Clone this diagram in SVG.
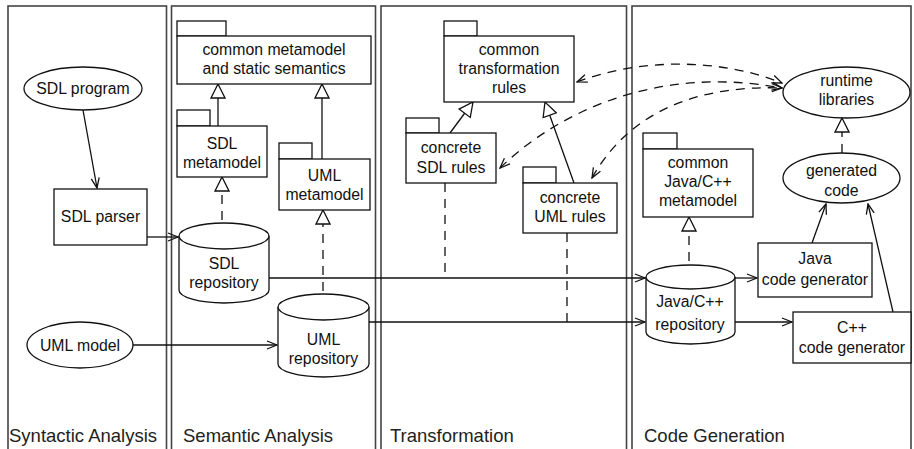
<svg xmlns="http://www.w3.org/2000/svg" width="914" height="449" viewBox="0 0 914 449">
<style>
.lane{fill:none;stroke:#444;stroke-width:1.6}
.lt{font-family:"Liberation Sans",Arial,sans-serif;font-size:18.5px;fill:#222}
.t{font-family:"Liberation Sans",Arial,sans-serif;font-size:15.8px;fill:#111;text-anchor:middle}
.s{fill:#fff;stroke:#111;stroke-width:1.3}
.c{fill:none;stroke:#111;stroke-width:1.3}
.d{fill:none;stroke:#111;stroke-width:1.3;stroke-dasharray:9,7}
</style>
<defs>
<marker id="open" viewBox="0 0 12 10" refX="11" refY="5" markerWidth="12" markerHeight="10" markerUnits="userSpaceOnUse" orient="auto-start-reverse">
<path d="M1,1 L11,5 L1,9" fill="none" stroke="#111" stroke-width="1.3"/>
</marker>
<marker id="tri" viewBox="0 0 16 16" refX="15" refY="8" markerWidth="16" markerHeight="16" markerUnits="userSpaceOnUse" orient="auto">
<path d="M1,1 L15,8 L1,15 z" fill="#fff" stroke="#111" stroke-width="1.3"/>
</marker>
</defs>

<g id="lanes">
<rect class="lane" x="8" y="6" width="158.5" height="460"/>
<rect class="lane" x="171.5" y="6" width="204" height="460"/>
<rect class="lane" x="381" y="6" width="245.5" height="460"/>
<rect class="lane" x="632" y="6" width="279" height="460"/>
<text class="lt" x="9" y="442">Syntactic Analysis</text>
<text class="lt" x="183" y="442">Semantic Analysis</text>
<text class="lt" x="390" y="442">Transformation</text>
<text class="lt" x="644" y="442">Code Generation</text>
</g>

<g id="connectors">
<line class="c" x1="83" y1="110" x2="97" y2="188" marker-end="url(#open)"/>
<line class="c" x1="147" y1="237" x2="178" y2="237" marker-end="url(#open)"/>
<line class="c" x1="133" y1="345" x2="277" y2="345" marker-end="url(#open)"/>
<line class="c" x1="269" y1="278" x2="645" y2="278" marker-end="url(#open)"/>
<line class="c" x1="369" y1="322" x2="645" y2="322" marker-end="url(#open)"/>
<line class="c" x1="735" y1="278" x2="757" y2="278" marker-end="url(#open)"/>
<line class="c" x1="735" y1="322" x2="792" y2="322" marker-end="url(#open)"/>
<line class="c" x1="812" y1="243" x2="826" y2="204" marker-end="url(#open)"/>
<line class="c" x1="893" y1="312" x2="868" y2="204" marker-end="url(#open)"/>
<line class="c" x1="218" y1="126" x2="218" y2="84" marker-end="url(#tri)"/>
<line class="c" x1="322" y1="159" x2="322" y2="84" marker-end="url(#tri)"/>
<line class="c" x1="450" y1="133" x2="473" y2="102" marker-end="url(#tri)"/>
<line class="c" x1="574" y1="183" x2="545" y2="102" marker-end="url(#tri)"/>
<line class="d" x1="222" y1="236" x2="222" y2="177" marker-end="url(#tri)"/>
<line class="d" x1="323" y1="307" x2="323" y2="210" marker-end="url(#tri)"/>
<line class="d" x1="689" y1="277" x2="689" y2="217" marker-end="url(#tri)"/>
<line class="d" x1="842" y1="153" x2="842" y2="118" marker-end="url(#tri)"/>
<line class="d" x1="445" y1="183" x2="445" y2="276"/>
<line class="d" x1="567" y1="233" x2="567" y2="322"/>
<path class="d" d="M577,82 C640,58 720,58 782,83" marker-start="url(#open)" marker-end="url(#open)"/>
<path class="d" d="M500,168 C560,110 660,65 782,88" marker-start="url(#open)" marker-end="url(#open)"/>
<path class="d" d="M592,178 C630,110 700,85 782,88" marker-start="url(#open)" marker-end="url(#open)"/>
</g>

<g id="sdl-program">
<ellipse class="s" cx="83" cy="88.5" rx="59" ry="21.5"/>
<text class="t" x="83" y="94">SDL program</text>
</g>
<g id="sdl-parser">
<rect class="s" x="54" y="189" width="93" height="56"/>
<text class="t" x="100.5" y="222">SDL parser</text>
</g>
<g id="uml-model">
<ellipse class="s" cx="80" cy="345" rx="53" ry="23"/>
<text class="t" x="80" y="350.5">UML model</text>
</g>

<g id="common-metamodel">
<rect class="s" x="177" y="21" width="49" height="15"/>
<rect class="s" x="177" y="36" width="194" height="48"/>
<text class="t" x="274" y="55">common metamodel</text>
<text class="t" x="274" y="74">and static semantics</text>
</g>
<g id="sdl-metamodel">
<rect class="s" x="177" y="110" width="33" height="16"/>
<rect class="s" x="177" y="126" width="90" height="51"/>
<text class="t" x="222" y="149">SDL</text>
<text class="t" x="222" y="168">metamodel</text>
</g>
<g id="uml-metamodel">
<rect class="s" x="279" y="143" width="33" height="16"/>
<rect class="s" x="279" y="159" width="91" height="51"/>
<text class="t" x="324.5" y="181">UML</text>
<text class="t" x="324.5" y="200">metamodel</text>
</g>
<g id="sdl-repository">
<path class="s" d="M179,236 L179,290 A45,13 0 0 0 269,290 L269,236"/>
<ellipse class="s" cx="224" cy="236" rx="45" ry="13"/>
<text class="t" x="224" y="269">SDL</text>
<text class="t" x="224" y="288">repository</text>
</g>
<g id="uml-repository">
<path class="s" d="M278,307 L278,364 A45.5,13 0 0 0 369,364 L369,307"/>
<ellipse class="s" cx="323.5" cy="307" rx="45.5" ry="13"/>
<text class="t" x="323.5" y="345">UML</text>
<text class="t" x="323.5" y="364">repository</text>
</g>

<g id="common-transformation-rules">
<rect class="s" x="444" y="21" width="33" height="15"/>
<rect class="s" x="444" y="36" width="130" height="66"/>
<text class="t" x="509" y="55">common</text>
<text class="t" x="509" y="74">transformation</text>
<text class="t" x="509" y="93">rules</text>
</g>
<g id="concrete-sdl-rules">
<rect class="s" x="406" y="118" width="33" height="15"/>
<rect class="s" x="406" y="133" width="90" height="50"/>
<text class="t" x="451" y="153">concrete</text>
<text class="t" x="451" y="173">SDL rules</text>
</g>
<g id="concrete-uml-rules">
<rect class="s" x="523" y="167" width="33" height="16"/>
<rect class="s" x="523" y="183" width="94" height="50"/>
<text class="t" x="570" y="203">concrete</text>
<text class="t" x="570" y="222">UML rules</text>
</g>

<g id="common-java-cpp-metamodel">
<rect class="s" x="643" y="133" width="34" height="16"/>
<rect class="s" x="643" y="149" width="110" height="68"/>
<text class="t" x="698" y="168">common</text>
<text class="t" x="698" y="187">Java/C++</text>
<text class="t" x="698" y="206">metamodel</text>
</g>
<g id="java-cpp-repository">
<path class="s" d="M646,277 L646,332 A44.5,12 0 0 0 735,332 L735,277"/>
<ellipse class="s" cx="690.5" cy="277" rx="44.5" ry="12"/>
<text class="t" x="690" y="307">Java/C++</text>
<text class="t" x="690" y="330">repository</text>
</g>
<g id="java-code-generator">
<rect class="s" x="758" y="243" width="114" height="54"/>
<text class="t" x="815" y="264">Java</text>
<text class="t" x="815" y="285">code generator</text>
</g>
<g id="cpp-code-generator">
<rect class="s" x="793" y="312" width="118" height="51"/>
<text class="t" x="852" y="333">C++</text>
<text class="t" x="852" y="353">code generator</text>
</g>
<g id="generated-code">
<ellipse class="s" cx="841.5" cy="178" rx="58.5" ry="25"/>
<text class="t" x="841.5" y="176">generated</text>
<text class="t" x="841.5" y="196">code</text>
</g>
<g id="runtime-libraries">
<ellipse class="s" cx="846.5" cy="92.5" rx="63.5" ry="25.5"/>
<text class="t" x="846.5" y="86">runtime</text>
<text class="t" x="846.5" y="105">libraries</text>
</g>
</svg>
